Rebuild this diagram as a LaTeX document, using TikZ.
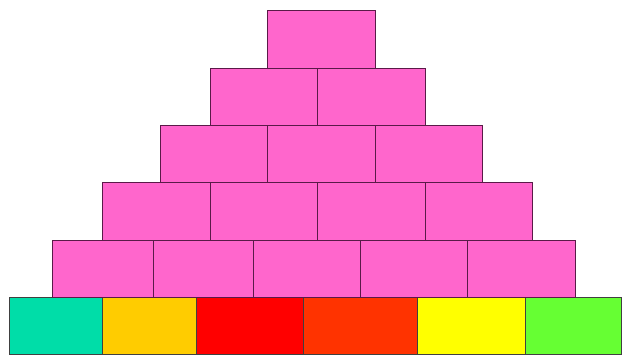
\documentclass[tikz,border=0pt]{standalone}
\definecolor{pinkfill}{HTML}{FF66CC}
\definecolor{pinkline}{HTML}{5A1A48}
\definecolor{cteal}{HTML}{00DDA8}
\definecolor{corange}{HTML}{FFCC00}
\definecolor{cred}{HTML}{FF0000}
\definecolor{cred2}{HTML}{FF3300}
\definecolor{cyellow}{HTML}{FFFF00}
\definecolor{cgreen}{HTML}{66FF33}
\tikzset{
  brick/.style={fill=pinkfill,draw=pinkline,line width=0.9pt},
  base/.style={draw=black!75,line width=0.9pt}
}
\begin{document}
\begin{tikzpicture}[x=1pt,y=-1pt]
\useasboundingbox[fill=white] (0,0) rectangle (623,356);
% base row
\draw[base,fill=cteal]   (9.3,297.3) rectangle (102,354);
\draw[base,fill=corange] (102,297.3) rectangle (196,354);
\draw[base,fill=cred]    (196,297.3) rectangle (303.3,354);
\draw[base,fill=cred2]   (303.3,297.3) rectangle (417.7,354);
\draw[base,fill=cyellow] (417.7,297.3) rectangle (525,354);
\draw[base,fill=cgreen]  (525,297.3) rectangle (621.5,354);
% row 5
\foreach \a/\b in {52.7/153.3,153.3/253.3,253.3/360,360/467.7,467.7/575}
  \draw[brick] (\a,240) rectangle (\b,297.3);
% row 4
\foreach \a/\b in {102.7/210,210/317.5,317.5/425,425/532.3}
  \draw[brick] (\a,182.7) rectangle (\b,240);
% row 3
\foreach \a/\b in {160/267.3,267.3/375,375/482.3}
  \draw[brick] (\a,125) rectangle (\b,182.7);
% row 2
\foreach \a/\b in {210/317.7,317.7/425}
  \draw[brick] (\a,68.3) rectangle (\b,125);
% row 1
\draw[brick] (267.3,10.7) rectangle (375,68.3);
\end{tikzpicture}
\end{document}
